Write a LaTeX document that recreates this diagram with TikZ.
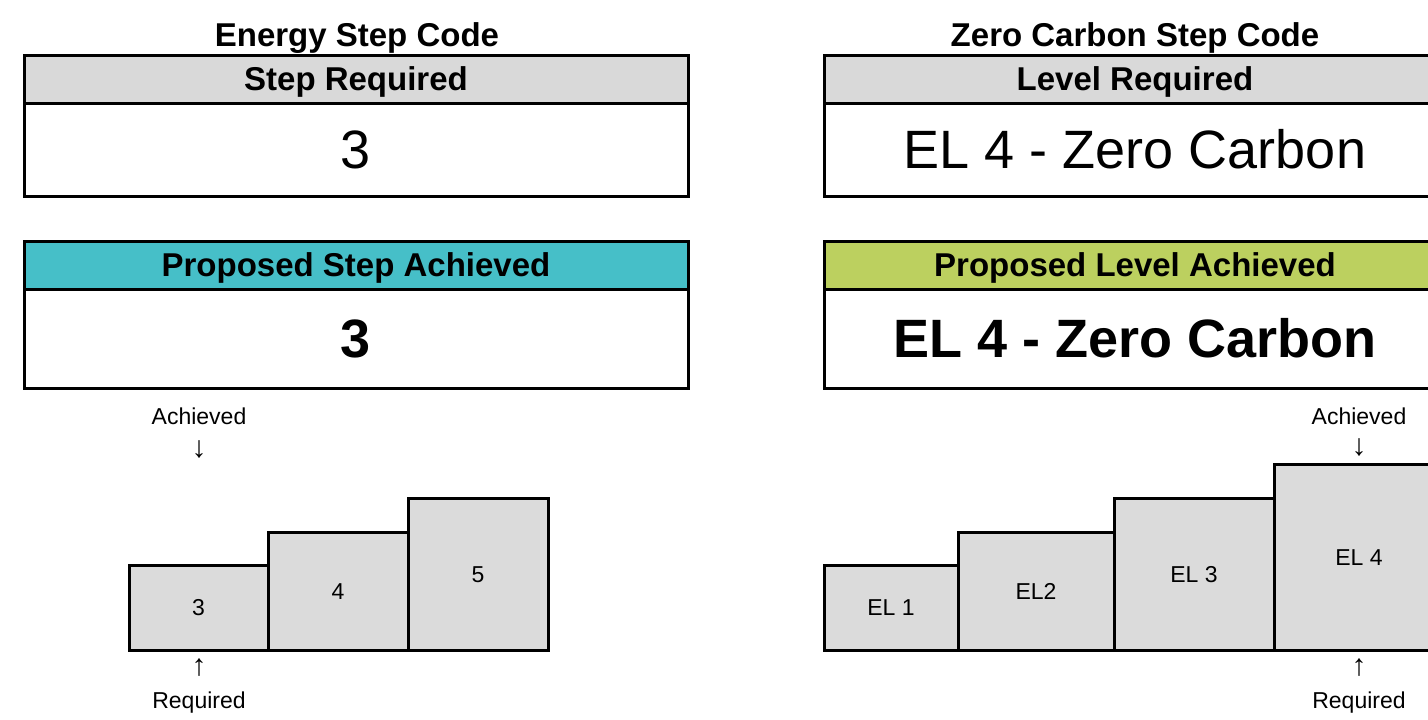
\documentclass[tikz,border=0pt]{standalone}
\usepackage{fontspec}
\setmainfont{Liberation Sans}
\definecolor{hdrgray}{HTML}{D9D9D9}
\definecolor{cyanhdr}{HTML}{46BFC8}
\definecolor{greenhdr}{HTML}{BCD05F}
\definecolor{stepgray}{HTML}{DBDBDB}
\begin{document}
\begin{tikzpicture}[x=1pt,y=-1pt,
  box/.style={draw=black, line width=3pt, rectangle, inner sep=0pt, anchor=center, text depth=0pt},
  hdr/.style={box, text height=23.8pt, font=\bfseries\fontsize{33}{40}\selectfont},
  bodyreg/.style={box, fill=white, text height=38.9pt, font=\fontsize{54}{60}\selectfont},
  bodybold/.style={box, fill=white, text height=38.9pt, font=\bfseries\fontsize{54}{60}\selectfont},
  ttl/.style={inner sep=0pt, text height=23.8pt, text depth=0pt, font=\bfseries\fontsize{33}{40}\selectfont},
  stepbox/.style={box, fill=stepgray, text height=16.6pt, font=\fontsize{23}{28}\selectfont},
  lbl/.style={inner sep=0pt, text height=16.6pt, text depth=0pt, font=\fontsize{23}{28}\selectfont},
  arr/.style={inner sep=0pt, font=\fontsize{30}{34}\selectfont}]
\clip (0,0) rectangle (1428,720);
\fill[white] (0,0) rectangle (1428,720);
% ---- left: Energy Step Code
\node[ttl] (t1) at (357,35) {Energy Step Code};
\node[hdr, fill=hdrgray, minimum width=664, minimum height=48] (h1) at (356,79) {Step Required};
\node[bodyreg, minimum width=664, minimum height=93] (b1) at (356,149.5) {3};
\node[hdr, fill=cyanhdr, minimum width=664, minimum height=48] (h2) at (356,265) {Proposed Step Achieved};
\node[bodybold, minimum width=664, minimum height=99] (b2) at (356,338.5) {3};
% ---- right: Zero Carbon Step Code
\node[ttl] (t2) at (1135,35) {Zero Carbon Step Code};
\node[hdr, fill=hdrgray, minimum width=622, minimum height=48] (h3) at (1135,79) {Level Required};
\node[bodyreg, minimum width=622, minimum height=93] (b3) at (1135,149.5) {EL 4 - Zero Carbon};
\node[hdr, fill=greenhdr, minimum width=622, minimum height=48] (h4) at (1135,265) {Proposed Level Achieved};
\node[bodybold, minimum width=622, minimum height=99] (b4) at (1135,338.5) {EL 4 - Zero Carbon};
% ---- left steps
\node[stepbox, minimum width=139, minimum height=85] (s3) at (198.5,607.5) {3};
\node[stepbox, minimum width=140, minimum height=118] (s4) at (338,591) {4};
\node[stepbox, minimum width=140, minimum height=152] (s5) at (478,574) {5};
\node[lbl] (a1) at (199,416) {Achieved};
\node[arr] (da1) at (199,450) {↓};
\node[arr] (ua1) at (199,668) {↑};
\node[lbl] (r1) at (199,700) {Required};
% ---- right steps
\node[stepbox, minimum width=134, minimum height=85] (e1) at (891,607.5) {EL 1};
\node[stepbox, minimum width=156, minimum height=118] (e2) at (1036,591) {EL2};
\node[stepbox, minimum width=160, minimum height=152] (e3) at (1194,574) {EL 3};
\node[stepbox, minimum width=170, minimum height=186] (e4) at (1359,557) {EL 4};
\node[lbl] (a2) at (1359,416) {Achieved};
\node[arr] (da2) at (1359,448) {↓};
\node[arr] (ua2) at (1359,668) {↑};
\node[lbl] (r2) at (1359,700) {Required};
\end{tikzpicture}
\end{document}
